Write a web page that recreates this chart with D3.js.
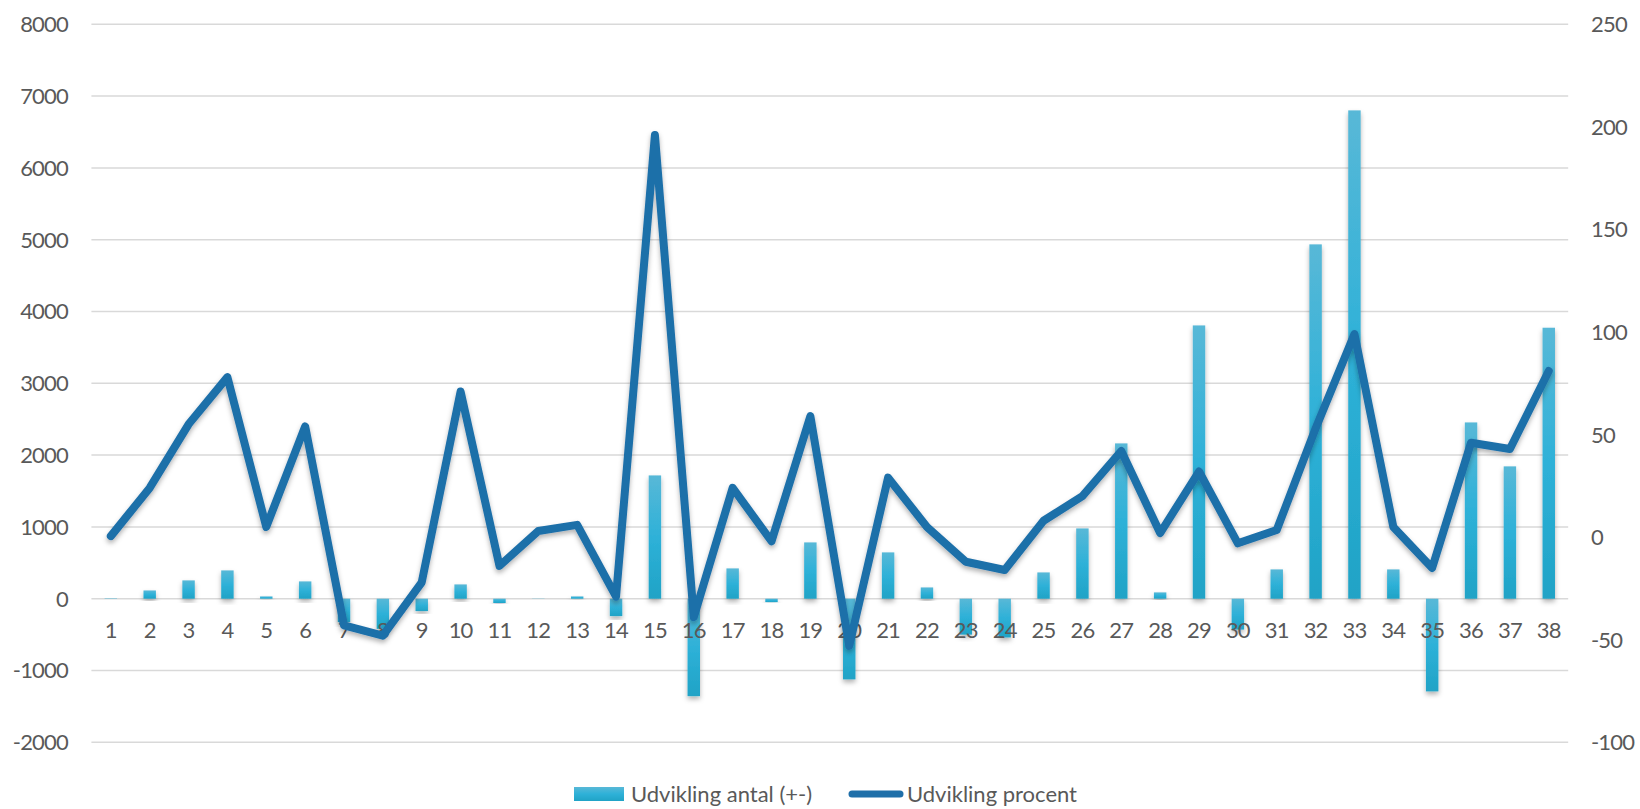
<!DOCTYPE html>
<html>
<head>
<meta charset="utf-8">
<script src="https://cdn.jsdelivr.net/npm/d3@7"></script>
<style>
  html, body { margin: 0; padding: 0; background: #fff; }
  text { font-family: Lato, "Open Sans", sans-serif; fill: #595959; }
  .num { letter-spacing: -0.8px; }
</style>
</head>
<body>
<svg id="chart" width="1640" height="809"></svg>
<script>
// categories on the x axis
const categories = ["1","2","3","4","5","6","7","8","9","10","11","12","13","14","15","16","17","18","19",
  "20","21","22","23","24","25","26","27","28","29","30","31","32","33","34","35","36","37","38"];

// Udvikling antal (+-) - left axis
const antal = [5, 115, 255, 394, 32, 241, -325, -420, -172, 199, -60, 3, 32, -242, 1717, -1357, 422, -47,
  784, -1124, 645, 157, -500, -540, 366, 979, 2163, 88, 3806, -430, 408, 4935, 6801, 408, -1291, 2455, 1843, 3774];

// Udvikling procent - right axis
const procent = [0.5, 24, 55, 78, 5, 54, -43, -48, -22, 71, -14, 3, 6, -29, 196, -39, 24, -2,
  59, -53, 29, 5, -12, -16, 8, 20, 42, 2, 32, -3, 3.5, 53, 99, 5, -15, 46, 43, 81];

const leftTicks = [-2000, -1000, 0, 1000, 2000, 3000, 4000, 5000, 6000, 7000, 8000];
const rightTicks = [-100, -50, 0, 50, 100, 150, 200, 250];

const seriesNames = ["Udvikling antal (+-)", "Udvikling procent"];

(function () {
  const svg = d3.select("#chart");
  const plotTop = 24.3, plotBottom = 742.3, plotLeft = 91.4, plotRight = 1568.2;

  const x = d3.scaleBand().domain(categories).range([plotLeft, plotRight]).paddingInner(0.68).paddingOuter(0.34);
  const yL = d3.scaleLinear().domain([-2000, 8000]).range([plotBottom, plotTop]);
  const yR = d3.scaleLinear().domain([-100, 250]).range([plotBottom, plotTop]);

  // defs: gradient for bars + soft shadows
  const defs = svg.append("defs");
  const grad = defs.append("linearGradient").attr("id", "barGrad")
    .attr("x1", 0).attr("y1", 0).attr("x2", 0).attr("y2", 1);
  grad.append("stop").attr("offset", "0%").attr("stop-color", "#58b8d7");
  grad.append("stop").attr("offset", "50%").attr("stop-color", "#2eb1d8");
  grad.append("stop").attr("offset", "100%").attr("stop-color", "#20a3c6");

  const shadow = defs.append("filter").attr("id", "shadow")
    .attr("x", "-50%").attr("y", "-20%").attr("width", "200%").attr("height", "140%");
  shadow.append("feDropShadow").attr("dx", 0).attr("dy", 3).attr("stdDeviation", 2.5)
    .attr("flood-color", "#000").attr("flood-opacity", 0.3);

  // gridlines
  svg.append("g")
    .selectAll("line")
    .data(leftTicks)
    .join("line")
    .attr("x1", plotLeft).attr("x2", plotRight)
    .attr("y1", (d) => yL(d)).attr("y2", (d) => yL(d))
    .attr("stroke", "#d9d9d9")
    .attr("stroke-width", 1.5);

  // left axis labels
  svg.append("g")
    .selectAll("text")
    .data(leftTicks)
    .join("text")
    .attr("class", "num")
    .attr("x", 68)
    .attr("y", (d) => yL(d))
    .attr("dy", "0.36em")
    .attr("text-anchor", "end")
    .style("font-size", "22px")
    .text((d) => d);

  // right axis labels
  svg.append("g")
    .selectAll("text")
    .data(rightTicks)
    .join("text")
    .attr("class", "num")
    .attr("x", 1591)
    .attr("y", (d) => yR(d))
    .attr("dy", "0.36em")
    .attr("text-anchor", "start")
    .style("font-size", "22px")
    .text((d) => d);

  // bars
  svg.append("g")
    .selectAll("rect")
    .data(antal)
    .join("rect")
    .attr("x", (d, i) => x(categories[i]))
    .attr("width", x.bandwidth())
    .attr("y", (d) => Math.min(yL(d), yL(0)))
    .attr("height", (d) => Math.abs(yL(d) - yL(0)))
    .attr("fill", "url(#barGrad)")
    .attr("filter", "url(#shadow)");

  // category labels (over the bars, under the line)
  svg.append("g")
    .selectAll("text")
    .data(categories)
    .join("text")
    .attr("class", "num")
    .attr("x", (d) => x(d) + x.bandwidth() / 2)
    .attr("y", 638)
    .attr("text-anchor", "middle")
    .style("font-size", "22px")
    .text((d) => d);

  // line
  const line = d3.line()
    .x((d, i) => x(categories[i]) + x.bandwidth() / 2)
    .y((d) => yR(d));

  svg.append("path")
    .datum(procent)
    .attr("d", line)
    .attr("fill", "none")
    .attr("stroke", "#1f6fa9")
    .attr("stroke-width", 8)
    .attr("stroke-linejoin", "round")
    .attr("stroke-linecap", "round")
    .attr("filter", "url(#shadow)");

  // legend
  const legend = svg.append("g");
  legend.append("rect")
    .attr("x", 574).attr("y", 787).attr("width", 50).attr("height", 14)
    .attr("fill", "url(#barGrad)");
  legend.append("text")
    .attr("x", 631).attr("y", 794).attr("dy", "0.36em")
    .style("font-size", "22px")
    .text(seriesNames[0]);
  legend.append("line")
    .attr("x1", 852).attr("x2", 900).attr("y1", 794).attr("y2", 794)
    .attr("stroke", "#1f6fa9").attr("stroke-width", 7).attr("stroke-linecap", "round");
  legend.append("text")
    .attr("x", 907).attr("y", 794).attr("dy", "0.36em")
    .style("font-size", "22px")
    .text(seriesNames[1]);
})();
</script>
</body>
</html>
